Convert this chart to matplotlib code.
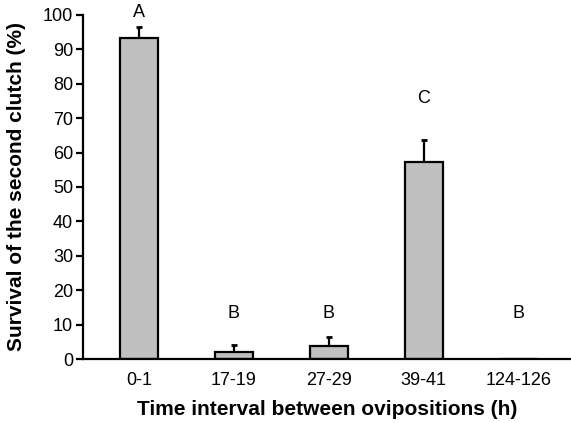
import numpy as np
import matplotlib.pyplot as plt

plt.rcParams['font.family'] = ['Liberation Sans', 'DejaVu Sans']

# data
intervals = ["0-1", "17-19", "27-29", "39-41", "124-126"]
survival = [93.2, 2.1, 3.9, 57.2, 0.0]
err = [3.3, 2.0, 2.5, 6.4, 0.0]
letters = ["A", "B", "B", "C", "B"]
letter_y = [100.8, 13.3, 13.3, 75.6, 13.3]

fig = plt.figure(figsize=(5.71, 4.23), dpi=100)
ax = fig.add_axes([0.145, 0.151, 0.855, 0.814])

x = np.arange(len(intervals))
# symmetric errorbars drawn behind the bars, so only the upper half shows
ax.errorbar(x, survival, yerr=err, fmt="none",
            ecolor="black", elinewidth=1.6, capsize=2.5, capthick=2, zorder=1)
ax.bar(x, survival, width=0.4, color="#c0c0c0", edgecolor="black", linewidth=1.6, zorder=2)

for xi, lab, ly in zip(x, letters, letter_y):
    ax.text(xi, ly, lab, ha="center", va="center", fontsize=13)

ax.set_xlim(-0.59, 4.55)
ax.set_ylim(0, 100)
ax.set_yticks(np.arange(0, 101, 10))
ax.set_xticks(x)
ax.set_xticklabels(intervals)
ax.tick_params(axis="y", direction="out", length=5, width=1.6, labelsize=13, pad=2)
ax.tick_params(axis="x", length=0, labelsize=13, pad=9)

for s in ["top", "right"]:
    ax.spines[s].set_visible(False)
ax.spines["left"].set_linewidth(1.6)
ax.spines["bottom"].set_linewidth(1.6)

ax.set_xlabel("Time interval between ovipositions (h)", fontsize=15, fontweight="bold", labelpad=8)
ax.set_ylabel("Survival of the second clutch (%)", fontsize=15, fontweight="bold", labelpad=12)

fig.savefig("out.png", dpi=100)
